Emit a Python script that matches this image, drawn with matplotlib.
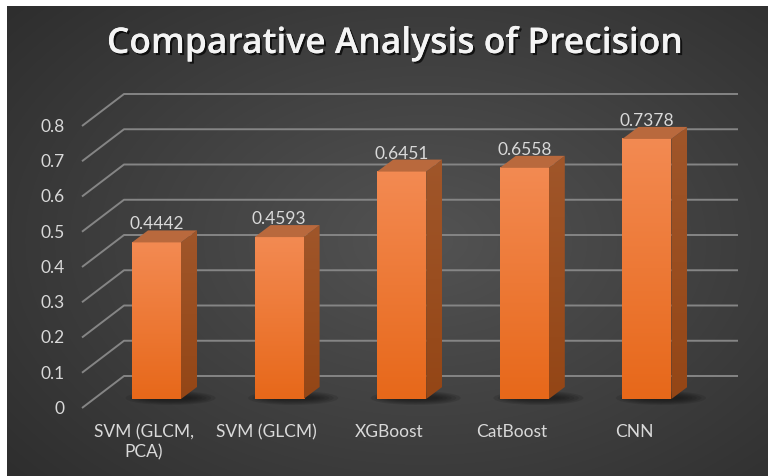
import numpy as np
import matplotlib
matplotlib.use("Agg")
import matplotlib.pyplot as plt
from matplotlib.patches import Polygon, Ellipse
from matplotlib import patheffects

models = ["SVM (GLCM,\nPCA)", "SVM (GLCM)", "XGBoost", "CatBoost", "CNN"]
precision = [0.4442, 0.4593, 0.6451, 0.6558, 0.7378]
y_ticks = [0.0, 0.1, 0.2, 0.3, 0.4, 0.5, 0.6, 0.7, 0.8]
title = "Comparative Analysis of Precision"

plt.rcParams["font.family"] = ["Lato", "DejaVu Sans"]
TXT = "#d9d9d9"

W, H = 768, 477
fig = plt.figure(figsize=(W / 100, H / 100), dpi=100, facecolor="white")

# dark panel with a soft radial shading
bg = fig.add_axes([7 / W, 0, 1 - 7 / W, 1 - 7 / H])
yy, xx = np.mgrid[0:1:240j, 0:1:380j]
r = np.hypot((xx - 0.55) / 0.75, (yy - 0.5) / 0.8)
g = np.clip(0.325 - 0.15 * r, 0.15, 0.4)
bg.imshow(np.dstack([g, g, g]), aspect="auto", extent=(0, 1, 0, 1),
          interpolation="bilinear")
bg.axis("off")

ax = fig.add_axes([0, 0, 1, 1])
ax.patch.set_alpha(0)
ax.set_autoscale_on(False)
cx = 122.6   # pixels per category
vy = 352.5   # pixels per 1.0 precision
ax.set_xlim(-144 / cx, (W - 144) / cx)
ax.set_ylim(-(H - 409) / vy, 409 / vy)
ax.axis("off")
px, py = 1 / cx, 1 / vy

# floor depth of the oblique walls
dx, dy = 42 * px, 32 * py
x_front = (82 - 144) * px
x_end = (738 - 144) * px

for v in y_ticks:
    ax.plot([x_front, x_front + dx, x_end], [v, v + dy, v + dy],
            color="#858585", lw=1.4, zorder=1, solid_capstyle="butt")
    ax.text(x_front - 17 * px, v, f"{v:g}", ha="right", va="center",
            color=TXT, fontsize=12.5)

# bars sit a little behind the front plane
w = 49 * px
off_x, off_y = 12.5 * px, 9 * py
sx, sy = 16 * px, 12 * py

front_top = np.array([243, 138, 82]) / 255
front_bot = np.array([231, 104, 26]) / 255
side_top = np.array([160, 86, 42]) / 255
side_bot = np.array([148, 70, 22]) / 255
t_lin = np.linspace(0, 1, 64)[:, None]
front_img = (front_top * (1 - t_lin) + front_bot * t_lin)[:, None, :]
side_img = (side_top * (1 - t_lin) + side_bot * t_lin)[:, None, :]

for i, v in enumerate(precision):
    x0 = i + off_x - w / 2
    x1 = x0 + w
    b = off_y
    t = v + off_y

    # blurred floor shadow, thrown to the right
    for k in range(6):
        ax.add_patch(Ellipse((i + off_x + 14 * px, b + 1 * py),
                             (90 - 9 * k) * px, (14 - 2 * k) * py,
                             color="#101010", alpha=0.14, lw=0, zorder=2))

    ax.imshow(front_img, extent=(x0, x1, b, t), aspect="auto", zorder=4,
              interpolation="bilinear")
    side = Polygon([(x1, b), (x1 + sx, b + sy), (x1 + sx, t + sy), (x1, t)],
                   closed=True, facecolor="none", edgecolor="none")
    ax.add_patch(side)
    im = ax.imshow(side_img, extent=(x1, x1 + sx, b, t + sy), aspect="auto",
                   zorder=4, interpolation="bilinear")
    im.set_clip_path(side)
    ax.add_patch(Polygon([(x0, t), (x1, t), (x1 + sx, t + sy), (x0 + sx, t + sy)],
                         closed=True, facecolor="#b9693d", edgecolor="none",
                         zorder=4))

    ax.annotate(f"{v:.4f}", (i + off_x, t + sy), xytext=(0, 1.5),
                textcoords="offset points", ha="center", va="baseline",
                color=TXT, fontsize=12.5, zorder=5)

for i, name in enumerate(models):
    ax.text(i, -15 * py, name, ha="center", va="top", color=TXT,
            fontsize=12.5, linespacing=1.3)

fig.text(394 / W, 1 - 45 / H, title, ha="center", va="center",
         color="#f4f4f4", fontsize=25.5, fontweight="semibold",
         family=["Open Sans", "DejaVu Sans"],
         path_effects=[patheffects.withSimplePatchShadow(offset=(1.5, -1.5),
                                                         shadow_rgbFace="black",
                                                         alpha=0.7),
                       patheffects.Normal()])

fig.savefig("out.png", dpi=100, facecolor="white")
